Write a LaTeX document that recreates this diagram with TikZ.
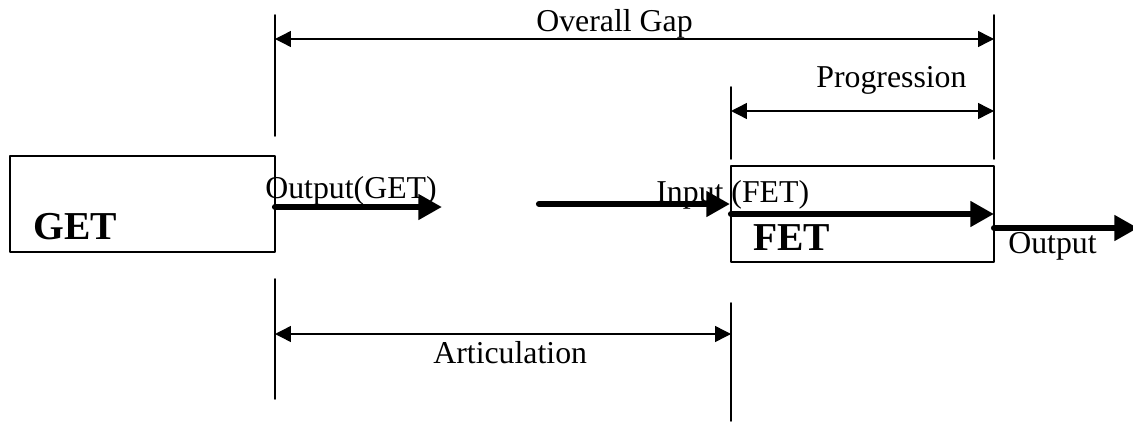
\documentclass[tikz,border=0pt]{standalone}
\usepackage{fontspec}
\setmainfont{Liberation Serif}
\usepackage{tikz}
\usepackage{tkz-euclide}
\usetikzlibrary{calc}
\usetikzlibrary{arrows.meta}

\begin{document}
\begin{tikzpicture}[scale=1,
    guide/.style={line width=0.95pt},
    span/.style={line width=0.8pt,{Triangle[length=9pt,width=9pt]}-{Triangle[length=9pt,width=9pt]}},
    flow/.style={line width=3.5pt,-{Triangle[length=13.5pt,width=14pt]}},
    block/.style={line width=0.9pt},
    lbl/.style={anchor=base west,inner sep=0pt,font=\fontsize{18.1}{22}\selectfont},
    tag/.style={anchor=base west,inner sep=0pt,font=\fontsize{22.5}{27}\selectfont\bfseries}]
      \useasboundingbox (0,0) rectangle (22.66,8.42);
      % guide lines
      \tkzDefPoint(5.5,8.12){aTop}
      \tkzDefPoint(5.5,5.70){aBot}
      \tkzDefPoint(19.88,8.12){bTop}
      \tkzDefPoint(19.88,5.24){bBot}
      \tkzDefPoint(14.62,6.68){cTop}
      \tkzDefPoint(14.62,5.24){cBot}
      \tkzDefPoint(5.5,2.84){dTop}
      \tkzDefPoint(5.5,0.44){dBot}
      \tkzDefPoint(14.62,2.36){eTop}
      \tkzDefPoint(14.62,0){eBot}
      % spans
      \tkzDefPoint(5.5,7.64){gapL}
      \tkzDefPoint(19.88,7.64){gapR}
      \tkzDefPoint(14.62,6.20){progL}
      \tkzDefPoint(19.88,6.20){progR}
      \tkzDefPoint(5.5,1.74){artL}
      \tkzDefPoint(14.62,1.74){artR}
      % blocks
      \tkzDefPoint(0.2,5.30){getA}
      \tkzDefPoint(5.5,5.30){getB}
      \tkzDefPoint(5.5,3.38){getC}
      \tkzDefPoint(0.2,3.38){getD}
      \tkzDefPoint(14.62,5.10){fetA}
      \tkzDefPoint(19.88,5.10){fetB}
      \tkzDefPoint(19.88,3.18){fetC}
      \tkzDefPoint(14.62,3.18){fetD}
      % flows
      \tkzDefPoint(5.5,4.28){outGetS}
      \tkzDefPoint(8.84,4.28){outGetE}
      \tkzDefPoint(10.78,4.34){inFetS}
      \tkzDefPoint(14.60,4.34){inFetE}
      \tkzDefPoint(14.62,4.14){thruS}
      \tkzDefPoint(19.88,4.14){thruE}
      \tkzDefPoint(19.88,3.86){outFetS}
      \tkzDefPoint(22.76,3.86){outFetE}
      \tkzDrawSegments[guide](aTop,aBot bTop,bBot cTop,cBot dTop,dBot eTop,eBot)
      \tkzDrawPolygon[block](getA,getB,getC,getD)
      \tkzDrawPolygon[block](fetA,fetB,fetC,fetD)
      \tkzDrawSegment[span](gapL,gapR)
      \tkzDrawSegment[span](progL,progR)
      \tkzDrawSegment[span](artL,artR)
      \tkzDrawSegment[flow](outGetS,outGetE)
      \tkzDrawSegment[flow](inFetS,inFetE)
      \tkzDrawSegment[flow](thruS,thruE)
      \tkzDrawSegment[flow](outFetS,outFetE)
      % labels
      \node[lbl] (gapLbl) at (10.72,7.80) {Overall Gap};
      \node[lbl] (progLbl) at (16.32,6.68) {Progression};
      \node[lbl] (outGetLbl) at (5.30,4.46) {Output(GET)};
      \node[lbl] (inFetLbl) at (13.12,4.38) {Input (FET)};
      \node[lbl] (outFetLbl) at (20.16,3.36) {Output};
      \node[lbl] (artLbl) at (8.66,1.16) {Articulation};
      \node[tag] (getTag) at (0.66,3.64) {GET};
      \node[tag] (fetTag) at (15.06,3.42) {FET};
\end{tikzpicture}
\end{document}
